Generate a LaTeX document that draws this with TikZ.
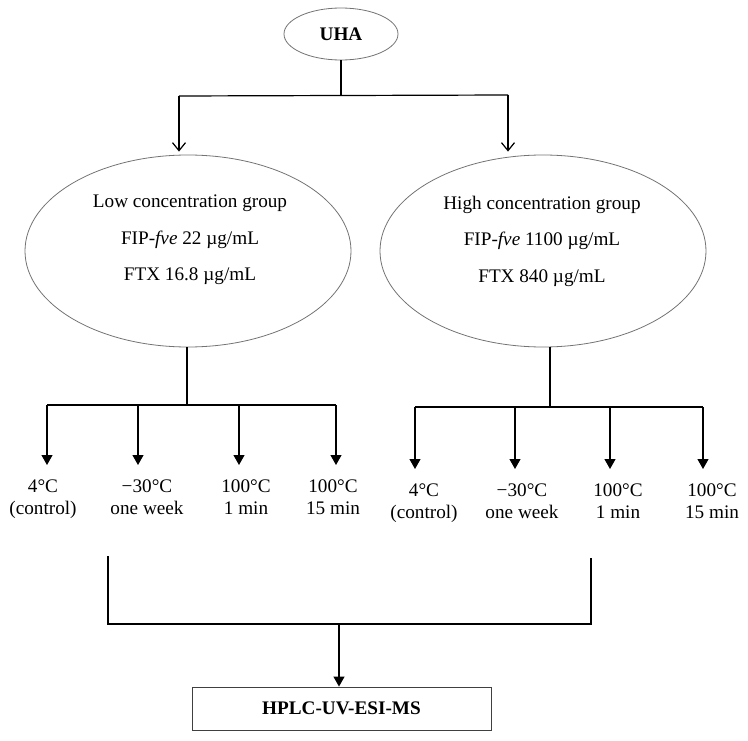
\documentclass[tikz,border=0pt]{standalone}
\usepackage{fontspec}
\setmainfont{Liberation Serif}
\usepackage{tikz}
\usetikzlibrary{arrows.meta,positioning,shapes.geometric}

\begin{document}
\begin{tikzpicture}[x=1pt, y=-1pt, font=\fontsize{19.2}{22}\selectfont]
    % Styles
    \tikzstyle{oval} = [ellipse, draw=black!55, line width=0.8pt, inner sep=0pt]
    \tikzstyle{line} = [line width=1.2pt]
    \tikzstyle{openarrow} = [line width=1.2pt, -{Straight Barb[length=8pt, width=13pt]}, shorten >=3pt]
    \tikzstyle{arrow} = [line width=1.2pt, -{Triangle[length=10pt, width=11pt]}]
    \tikzstyle{cond} = [align=center, inner sep=0pt, anchor=north]
    \tikzstyle{grouptext} = [align=center, font=\fontsize{19.2}{36.5}\selectfont]
    \tikzstyle{block} = [rectangle, draw=black!75, line width=0.9pt, minimum width=299pt, minimum height=43pt, font=\fontsize{19.2}{22}\selectfont\bfseries]

    \useasboundingbox (0,0) rectangle (748,741);

    % Nodes
    \node [oval, minimum width=114pt, minimum height=52pt, font=\fontsize{19.2}{22}\selectfont\bfseries] (uha) at (341,34) {UHA};
    \node [oval, minimum width=326pt, minimum height=192pt] (low) at (188,251) {};
    \node [oval, minimum width=326pt, minimum height=192pt] (high) at (543,251) {};
    \node [grouptext] (lowtext) at (190,240) {Low concentration group\\FIP-\textit{fve} 22 µg/mL\\FTX 16.8 µg/mL};
    \node [grouptext] (hightext) at (542,241) {High concentration group\\FIP-\textit{fve} 1100 µg/mL\\FTX 840 µg/mL};
    \node [block] (hplc) at (341.5,708.5) {HPLC-UV-ESI-MS};

    % UHA split
    \coordinate (topsplit) at (341,96);
    \coordinate (topL) at (179,96);
    \coordinate (topR) at (508,95);
    \draw [line] (uha) -- (topsplit);
    \draw [line] (topL) -- (topR);
    \draw [openarrow] (topL) -- (topL |- low.north);
    \draw [openarrow] (topR) -- (topR |- high.north);

    % Low group branches
    \coordinate (lowsplit) at (187,405);
    \draw [line] (lowsplit |- low.south) -- (lowsplit);
    \foreach \i/\x/\lx/\txt in {1/47/43/{4°C\\(control)}, 2/138/147/{−30°C\\one week}, 3/239/246/{100°C\\1 min}, 4/336/333/{100°C\\15 min}} {
        \coordinate (lowtop\i) at (\x,405);
        \node [cond] (lowcond\i) at (\lx,480) {\txt};
        \draw [arrow] (lowtop\i) -- ([yshift=15pt]lowtop\i |- lowcond\i.north);
    }
    \draw [line] (lowtop1) -- (lowtop4);

    % High group branches
    \coordinate (highsplit) at (550,407);
    \draw [line] ([yshift=0.5pt]highsplit |- high.south) -- (highsplit);
    \foreach \i/\x/\lx/\txt in {1/415/424/{4°C\\(control)}, 2/515/522/{−30°C\\one week}, 3/610/618/{100°C\\1 min}, 4/703/712/{100°C\\15 min}} {
        \coordinate (hightop\i) at (\x,407);
        \node [cond] (highcond\i) at (\lx,484) {\txt};
        \draw [arrow] (hightop\i) -- ([yshift=15pt]hightop\i |- highcond\i.north);
    }
    \draw [line] (hightop1) -- (hightop4);

    % Join to analysis
    \coordinate (joinL) at (108,556);
    \coordinate (joinR) at (591,558);
    \coordinate (joinmid) at (339,624);
    \draw [line] (joinL) -- (joinL |- joinmid) -- (joinR |- joinmid) -- (joinR);
    \draw [arrow] (joinmid) -- (joinmid |- hplc.north);
\end{tikzpicture}
\end{document}
